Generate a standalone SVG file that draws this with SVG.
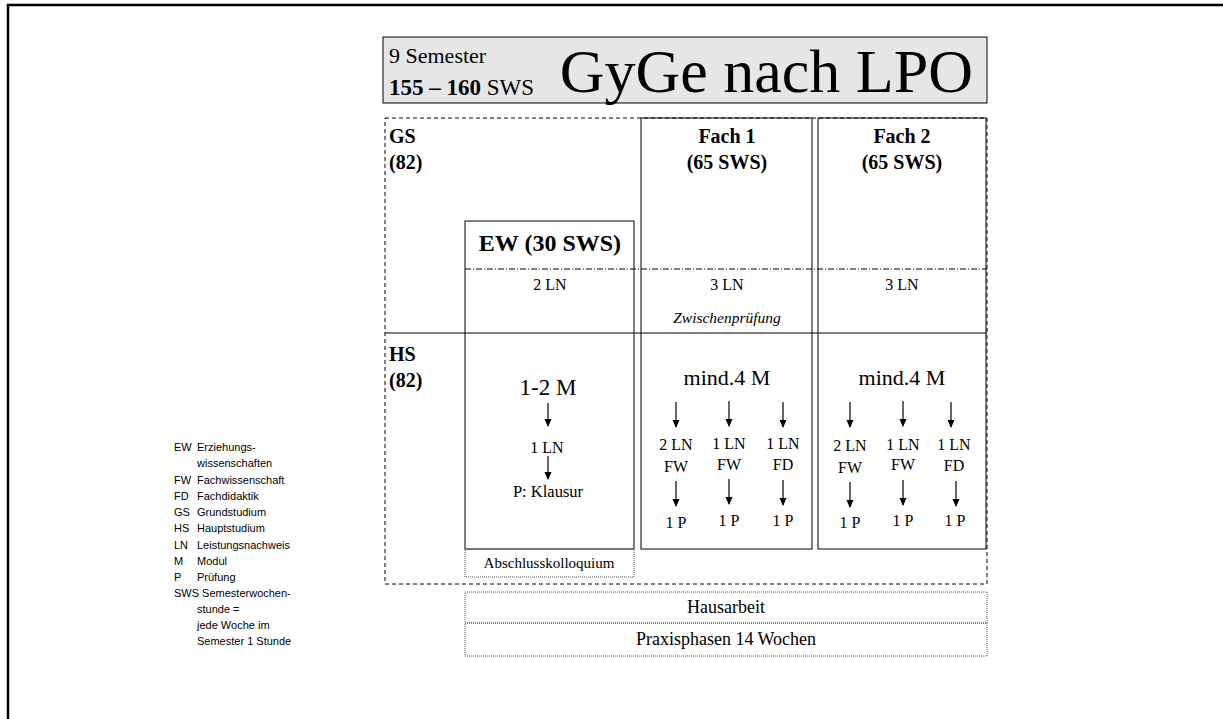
<svg xmlns="http://www.w3.org/2000/svg" width="1223" height="719" viewBox="0 0 1223 719">
<style>
.s{font-family:"Liberation Serif","Times New Roman",serif;fill:#000}
.b{font-weight:bold}
.c{text-anchor:middle}
.lg{font-family:"Liberation Sans",Arial,sans-serif;font-size:11px;fill:#000}
.solid{fill:none;stroke:#000;stroke-width:1}
.dash{fill:none;stroke:#000;stroke-width:1;stroke-dasharray:4,3}
.dot{fill:none;stroke:#555;stroke-width:1;stroke-dasharray:1,1}
.arr{stroke:#000;stroke-width:1.2;marker-end:url(#ah)}
</style>
<defs>
<marker id="ah" markerWidth="8" markerHeight="8" refX="7" refY="4" orient="auto" markerUnits="userSpaceOnUse">
<path d="M0,0.5 L8,4 L0,7.5 Z" fill="#000"/>
</marker>
</defs>
<rect width="1223" height="719" fill="#fff"/>
<path d="M8,719 V5 H1223" fill="none" stroke="#000" stroke-width="2.5"/>

<g id="title">
<rect x="383" y="37" width="604" height="66" fill="#e6e6e6" stroke="#000" stroke-width="1"/>
<text class="s" x="389" y="63" font-size="22">9 Semester</text>
<text class="s" x="389" y="95" font-size="23"><tspan class="b">155 – 160</tspan> SWS</text>
<text class="s" x="973" y="92" font-size="62" text-anchor="end">GyGe nach LPO</text>
</g>

<g id="gs-region">
<rect class="dash" x="385" y="118" width="602" height="466"/>
<text class="s b" x="389" y="143" font-size="20">GS</text>
<text class="s b" x="389" y="169" font-size="20">(82)</text>
<text class="s b" x="389" y="361" font-size="20">HS</text>
<text class="s b" x="389" y="387" font-size="20">(82)</text>
</g>

<g id="fach1">
<rect class="solid" x="641" y="118" width="171" height="431"/>
<text class="s b c" x="727" y="143" font-size="20">Fach 1</text>
<text class="s b c" x="727" y="169" font-size="20">(65 SWS)</text>
<text class="s c" x="727" y="290" font-size="16">3 LN</text>
<text class="s c" x="727" y="323" font-size="15.5" font-style="italic">Zwischenprüfung</text>
<text class="s c" x="727" y="385" font-size="22">mind.4 M</text>
<text class="s c" x="676" y="450" font-size="16">2 LN</text>
<text class="s c" x="676" y="472" font-size="16">FW</text>
<text class="s c" x="729" y="449" font-size="16">1 LN</text>
<text class="s c" x="729" y="470" font-size="16">FW</text>
<text class="s c" x="783" y="449" font-size="16">1 LN</text>
<text class="s c" x="783" y="470" font-size="16">FD</text>
<text class="s c" x="676" y="528" font-size="16">1 P</text>
<text class="s c" x="729" y="526" font-size="16">1 P</text>
<text class="s c" x="783" y="526" font-size="16">1 P</text>
</g>

<g id="fach2">
<rect class="solid" x="818" y="118" width="168" height="431"/>
<text class="s b c" x="902" y="143" font-size="20">Fach 2</text>
<text class="s b c" x="902" y="169" font-size="20">(65 SWS)</text>
<text class="s c" x="902" y="290" font-size="16">3 LN</text>
<text class="s c" x="902" y="385" font-size="22">mind.4 M</text>
<text class="s c" x="850" y="451" font-size="16">2 LN</text>
<text class="s c" x="850" y="473" font-size="16">FW</text>
<text class="s c" x="903" y="450" font-size="16">1 LN</text>
<text class="s c" x="903" y="470" font-size="16">FW</text>
<text class="s c" x="954" y="450" font-size="16">1 LN</text>
<text class="s c" x="954" y="471" font-size="16">FD</text>
<text class="s c" x="850" y="528" font-size="16">1 P</text>
<text class="s c" x="903" y="526" font-size="16">1 P</text>
<text class="s c" x="955" y="526" font-size="16">1 P</text>
</g>

<g id="ew">
<rect class="solid" x="465" y="221" width="169" height="328"/>
<text class="s b c" x="550" y="251" font-size="24">EW (30 SWS)</text>
<text class="s c" x="550" y="290" font-size="16">2 LN</text>
<text class="s c" x="548" y="395" font-size="23">1-2 M</text>
<text class="s c" x="547" y="453" font-size="16">1 LN</text>
<text class="s c" x="548" y="497" font-size="16.5">P: Klausur</text>
</g>

<g id="abschluss">
<rect class="dot" x="465" y="549" width="169" height="28"/>
<text class="s c" x="549" y="568" font-size="15">Abschlusskolloquium</text>
</g>

<g id="hausarbeit">
<rect class="dot" x="465" y="592" width="522" height="31"/>
<text class="s c" x="726" y="613" font-size="18">Hausarbeit</text>
</g>

<g id="praxis">
<rect class="dot" x="465" y="623" width="522" height="33"/>
<text class="s c" x="726" y="645" font-size="18">Praxisphasen 14 Wochen</text>
</g>

<g id="legend">
<text class="lg" x="174" y="451">EW</text><text class="lg" x="197" y="451">Erziehungs-</text>
<text class="lg" x="197" y="467">wissenschaften</text>
<text class="lg" x="174" y="484">FW</text><text class="lg" x="197" y="484">Fachwissenschaft</text>
<text class="lg" x="174" y="500">FD</text><text class="lg" x="197" y="500">Fachdidaktik</text>
<text class="lg" x="174" y="516">GS</text><text class="lg" x="197" y="516">Grundstudium</text>
<text class="lg" x="174" y="532">HS</text><text class="lg" x="197" y="532">Hauptstudium</text>
<text class="lg" x="174" y="549">LN</text><text class="lg" x="197" y="549">Leistungsnachweis</text>
<text class="lg" x="174" y="565">M</text><text class="lg" x="197" y="565">Modul</text>
<text class="lg" x="174" y="581">P</text><text class="lg" x="197" y="581">Prüfung</text>
<text class="lg" x="174" y="597">SWS Semesterwochen-</text>
<text class="lg" x="197" y="613">stunde =</text>
<text class="lg" x="197" y="629">jede Woche im</text>
<text class="lg" x="197" y="645">Semester 1 Stunde</text>
</g>

<g id="connectors">
<line x1="465" y1="269" x2="987" y2="269" stroke="#000" stroke-width="1" stroke-dasharray="6,2,1,2"/>
<line x1="385" y1="333" x2="987" y2="333" stroke="#000" stroke-width="1.2"/>
<line class="arr" x1="548" y1="403" x2="548" y2="426"/>
<line class="arr" x1="548" y1="456" x2="548" y2="479"/>
<line class="arr" x1="676" y1="402" x2="676" y2="427"/>
<line class="arr" x1="729" y1="401" x2="729" y2="426"/>
<line class="arr" x1="783" y1="402" x2="783" y2="427"/>
<line class="arr" x1="676" y1="481" x2="676" y2="506"/>
<line class="arr" x1="729" y1="479" x2="729" y2="504"/>
<line class="arr" x1="783" y1="480" x2="783" y2="505"/>
<line class="arr" x1="850" y1="402" x2="850" y2="427"/>
<line class="arr" x1="903" y1="401" x2="903" y2="426"/>
<line class="arr" x1="951" y1="402" x2="951" y2="427"/>
<line class="arr" x1="850" y1="482" x2="850" y2="507"/>
<line class="arr" x1="903" y1="480" x2="903" y2="505"/>
<line class="arr" x1="956" y1="481" x2="956" y2="506"/>
</g>
</svg>
